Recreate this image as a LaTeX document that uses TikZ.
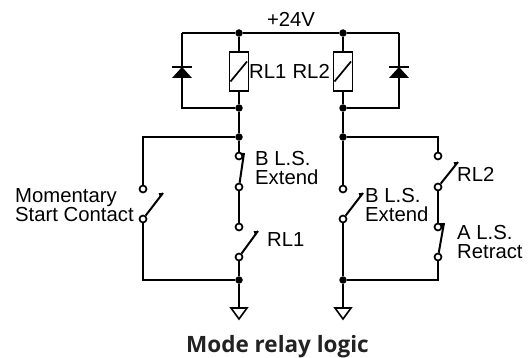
\documentclass[tikz,border=0pt]{standalone}
\usepackage{fontspec}
\setmainfont{Liberation Sans}
\newfontfamily\titlefont{Open Sans}
\usetikzlibrary{calc}
\definecolor{titlegray}{HTML}{222222}
\begin{document}
\begin{tikzpicture}[x=1pt,y=-1pt,
  wire/.style={line width=2pt},
  dot/.style={circle,fill=black,inner sep=0pt,minimum size=7.5pt},
  contact/.style={circle,draw,fill=white,line width=1.7pt,inner sep=0pt,minimum size=7pt},
  relay/.style={draw,fill=white,line width=1.9pt,minimum width=19pt,minimum height=39pt,inner sep=0pt},
  lbl/.style={inner sep=0pt,font=\fontsize{20.3}{18.5}\selectfont},
  lbl2/.style={lbl,align=left,anchor=north west},
  titlelbl/.style={inner sep=0pt,text=titlegray,font={\titlefont\bfseries\fontsize{22.5}{24}\selectfont}}]
\useasboundingbox (0,0) rectangle (529,358);

% corner coordinates
\coordinate (c1) at (182,33);
\coordinate (c2) at (182,108);
\coordinate (c3) at (399,33);
\coordinate (c4) at (399,108);
\coordinate (c5) at (143,137);
\coordinate (c6) at (143,280);
\coordinate (c7) at (438,137);
\coordinate (c8) at (438,280);
\coordinate (g1) at (239,308);
\coordinate (g2) at (343,308);
\coordinate (d1) at (182,72.5);
\coordinate (d2) at (399,72.5);

% junctions
\node[dot] (j1) at (239,33) {};
\node[dot] (j2) at (343,33) {};
\node[dot] (j3) at (239,108) {};
\node[dot] (j4) at (343,108) {};
\node[dot] (j5) at (239,137) {};
\node[dot] (j6) at (343,137) {};
\node[dot] (j7) at (239,280) {};
\node[dot] (j8) at (343,280) {};

% relays
\node[relay] (r1) at (239,71.5) {};
\node[relay] (r2) at (343,71.5) {};

% contacts
\node[contact] (ma) at (143,189) {};
\node[contact] (mb) at (143,219) {};
\node[contact] (ba) at (239,156) {};
\node[contact] (bb) at (239,187) {};
\node[contact] (ra) at (239,227) {};
\node[contact] (rb) at (239,257) {};
\node[contact] (ca) at (343,189) {};
\node[contact] (cb) at (343,219) {};
\node[contact] (qa) at (438,156) {};
\node[contact] (qb) at (438,187) {};
\node[contact] (aa) at (438,227) {};
\node[contact] (ab) at (438,257) {};

% blade tips
\coordinate (tm) at (163,193);
\coordinate (tb) at (244,153);
\coordinate (tr) at (258,231);
\coordinate (tc) at (363,193);
\coordinate (tq) at (458,162);
\coordinate (ta) at (444,223);

% wires
\draw[wire] (c1) -- (j1) -- (j2) -- (c3);
\draw[wire] (c1) -- (c2) -- (j3);
\draw[wire] (c3) -- (c4) -- (j4);
\draw[wire] (j1) -- (r1);
\draw[wire] (r1) -- (j3);
\draw[wire] (j3) -- (j5);
\draw[wire] (j5) -- (ba);
\draw[wire] (j2) -- (r2);
\draw[wire] (r2) -- (j4);
\draw[wire] (j4) -- (j6);
\draw[wire] (j6) -- (ca);
\draw[wire] (j5) -- (c5) -- (ma);
\draw[wire] (mb) -- (c6) -- (j7);
\draw[wire] (bb) -- (ra);
\draw[wire] (rb) -- (j7);
\draw[wire] (j7) -- (g1);
\draw[wire] (j6) -- (c7) -- (qa);
\draw[wire] (qb) -- (aa);
\draw[wire] (ab) -- (c8) -- (j8);
\draw[wire] (cb) -- (j8);
\draw[wire] (j8) -- (g2);

% relay slashes
\draw[line width=1.7pt] ($(r1.center)+(-8.5,10)$) -- ($(r1.center)+(8,-10)$);
\draw[line width=1.7pt] ($(r2.center)+(-8.5,10)$) -- ($(r2.center)+(8,-10)$);

% diodes
\foreach \d in {d1,d2} {
  \fill[shift={(\d)}] (-10,5.5) -- (10,5.5) -- (0,-5.5) -- cycle;
  \draw[line width=2pt,shift={(\d)}] (-10,-5.5) -- (10,-5.5);
}

% grounds
\foreach \g in {g1,g2} {
  \draw[line width=1.6pt,fill=white,line join=miter,shift={(\g)}] (-8,0) -- (8,0) -- (0,11) -- cycle;
}

% blades
\draw[wire] (mb) -- (tm);
\draw[wire] (bb) -- (tb);
\draw[wire] (rb) -- (tr);
\draw[wire] (cb) -- (tc);
\draw[wire] (qb) -- (tq);
\draw[wire] (ab) -- (ta);
\foreach \t/\b in {tm/mb,tb/bb,tr/rb,tc/cb,tq/qb,ta/ab} {
  \fill ($(\t)+(-4.5,0)$) -- (\t) -- ($(\t)!5pt!(\b)$) -- cycle;
}

% labels
\node[lbl,anchor=base] (v24) at (291,27) {+24V};
\node[lbl,anchor=base west] (l1) at (249,79) {RL1};
\node[lbl,anchor=base east] (l2) at (330,79) {RL2};
\node[lbl2] (lb) at (255,151.3) {B L.S.\\Extend};
\node[lbl,anchor=base west] (lr1) at (267,246) {RL1};
\node[lbl2] (lm) at (15,188.5) {Momentary\\Start Contact};
\node[lbl2] (lc) at (365,188.3) {B L.S.\\Extend};
\node[lbl,anchor=base west] (lq) at (457,181) {RL2};
\node[lbl2] (la) at (457,225.3) {A L.S.\\Retract};
\node[titlelbl,anchor=base] (title) at (277.5,352) {Mode relay logic};
\end{tikzpicture}
\end{document}
